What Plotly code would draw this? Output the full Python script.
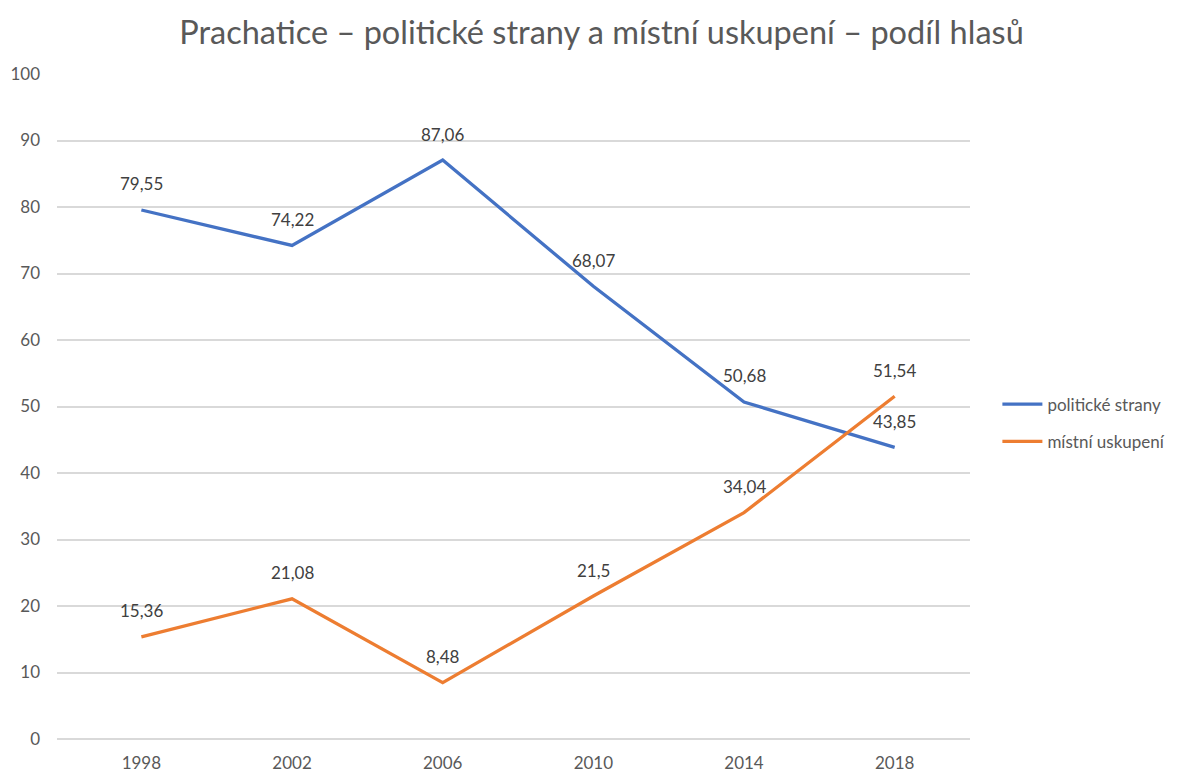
import plotly.graph_objects as go

years = ["1998", "2002", "2006", "2010", "2014", "2018"]
strany = [79.55, 74.22, 87.06, 68.07, 50.68, 43.85]
uskupeni = [15.36, 21.08, 8.48, 21.5, 34.04, 51.54]

FONT = "Lato, 'Open Sans', sans-serif"
GREY = "#595959"


def fmt(v):
    return f"{v:g}".replace(".", ",")


x = list(range(len(years)))

fig = go.Figure()
for name, vals, color in [("politické strany", strany, "#4472C4"),
                          ("místní uskupení", uskupeni, "#ED7D31")]:
    fig.add_trace(go.Scatter(
        x=x, y=vals, mode="lines", name=name, legendgroup=name,
        line=dict(color=color, width=3.3),
    ))
    for xi, v in zip(x, vals):
        fig.add_annotation(
            x=xi, y=v, text=fmt(v), showarrow=False, yshift=26,
            font=dict(size=17, color="#404040"),
        )

fig.update_layout(
    width=1187, height=776,
    paper_bgcolor="white", plot_bgcolor="white",
    font=dict(family=FONT, color=GREY, size=17),
    title=dict(
        text="Prachatice – politické strany a místní uskupení – podíl hlasů",
        x=0.5, xanchor="center", y=0.968, yanchor="middle",
        font=dict(size=32.5, color=GREY, family=FONT),
    ),
    margin=dict(l=49, r=225, t=66, b=45),
    legend=dict(
        x=1.03, y=0.475, xanchor="left", yanchor="middle",
        font=dict(size=17, color=GREY), tracegroupgap=12,
        itemwidth=40,
    ),
    xaxis=dict(
        range=[-0.56, 5.5], tickvals=x, ticktext=years,
        showgrid=False, zeroline=False, showline=False,
        ticks="", tickfont=dict(size=17, color=GREY),
        ticklabelstandoff=12, automargin=False,
    ),
    yaxis=dict(
        range=[0, 100], dtick=10, showgrid=True, gridcolor="#D9D9D9",
        gridwidth=1.5, zeroline=True, zerolinecolor="#D9D9D9",
        zerolinewidth=1.5, showline=False, ticks="", automargin=False,
        tickfont=dict(size=17, color=GREY), ticklabelstandoff=16,
    ),
)

fig.write_html("out.html")
